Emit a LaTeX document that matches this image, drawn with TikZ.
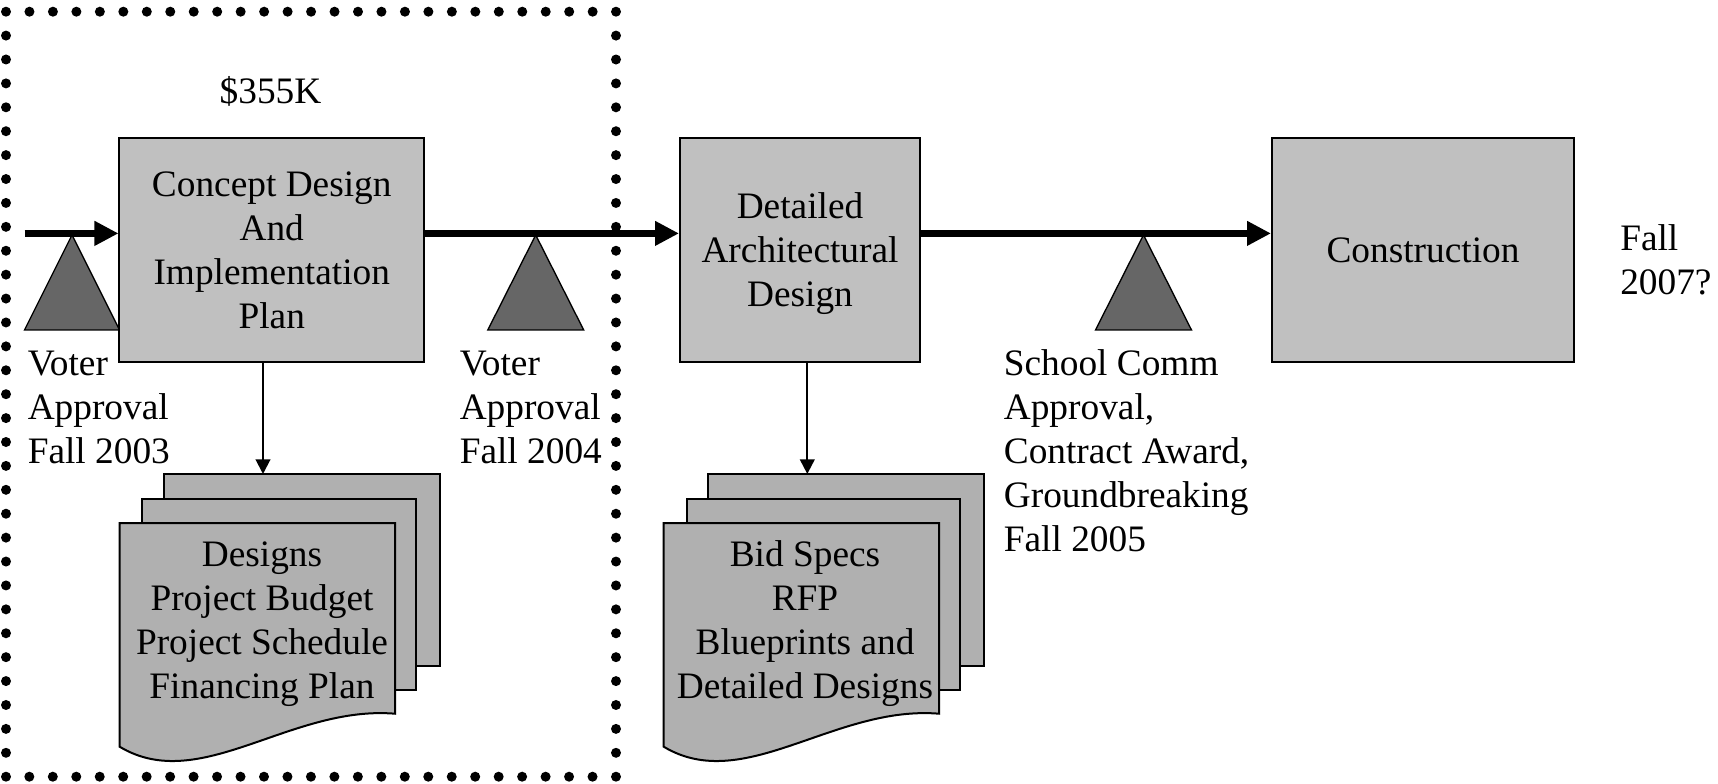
\documentclass[tikz,border=0pt]{standalone}
\usepackage{fontspec}
\setmainfont{Liberation Serif}
\usetikzlibrary{arrows.meta}
\definecolor{boxgray}{HTML}{C0C0C0}
\definecolor{docgray}{HTML}{B0B0B0}
\definecolor{gatedark}{HTML}{666666}
\newcommand{\topstrut}{\rule{0pt}{28.6pt}}
\begin{document}
\begin{tikzpicture}[x=0.75pt,y=-0.75pt,
  font=\fontsize{28}{33}\selectfont,
  stagebox/.style={draw=black, line width=1.5pt, fill=boxgray, align=center, inner sep=0pt},
  mainline/.style={line width=5.25pt, -{Triangle[length=18pt,width=17.5pt]}},
  subline/.style={line width=1.5pt, -{Triangle[length=11pt,width=11pt]}},
  gate/.style={draw=black, line width=1pt, fill=gatedark},
  sheet/.style={draw=black, line width=1.5pt, fill=docgray},
  lbl/.style={inner sep=0pt, align=left, anchor=north west},
  doctext/.style={inner sep=0pt, align=center, anchor=north},
  dotline/.style={line width=7.5pt, line cap=round}
]
\useasboundingbox (0,0) rectangle (1718,784);

% milestone triangles
\draw[gate] (72,235) -- (119.6,330) -- (24.5,330) -- cycle;
\draw[gate] (535.7,235) -- (583.7,330) -- (487.8,330) -- cycle;
\draw[gate] (1143.5,235) -- (1191.5,330) -- (1095.5,330) -- cycle;

% stage boxes
\node[stagebox, minimum width=228.4pt, minimum height=168pt] (concept) at (271.75,250)
  {\topstrut Concept Design\\And\\Implementation\\Plan\strut};
\node[stagebox, minimum width=180pt, minimum height=168pt] (detailed) at (800,250)
  {\topstrut Detailed\\Architectural\\Design\strut};
\node[stagebox, minimum width=226.5pt, minimum height=168pt] (construction) at (1423,250)
  {\topstrut Construction\strut};

% main timeline
\coordinate (start) at (24.5,233.4);
\draw[mainline] (start) -- (start -| concept.west);
\draw[mainline] (concept.east |- start) -- (start -| detailed.west);
\draw[mainline] (detailed.east |- start) -- (start -| construction.west);

% document stacks
\foreach \dx in {0,544.1}{
  \begin{scope}[shift={(\dx,0)}]
    \draw[sheet] (164,474) rectangle (439.6,665.7);
    \draw[sheet] (142.4,498.7) rectangle (416.3,690.3);
    \draw[sheet] (119.6,523) -- (395,523) -- (395,713.7)
      .. controls (290,705) and (200,795) .. (119.6,746.7) -- cycle;
  \end{scope}
}
\coordinate (in1) at (263,474);
\coordinate (in2) at (807.3,474);
\draw[subline] (in1 |- concept.south) -- (in1);
\draw[subline] (in2 |- detailed.south) -- (in2);

\node[doctext] (doc1text) at (262,535.2)
  {\strut Designs\\Project Budget\\Project Schedule\\Financing Plan};
\node[doctext] (doc2text) at (805,535.2)
  {\strut Bid Specs\\RFP\\Blueprints and\\Detailed Designs};

% labels
\node[inner sep=0pt, anchor=base] (cost) at (270.5,103.5) {\$355K};
\node[lbl] (v2003) at (27.5,344.2) {\strut Voter\\Approval\\Fall 2003};
\node[lbl] (v2004) at (459.5,344.2) {\strut Voter\\Approval\\Fall 2004};
\node[lbl] (school) at (1003.6,344.2)
  {\strut School Comm\\Approval,\\Contract Award,\\Groundbreaking\\Fall 2005};
\node[lbl] (fall07) at (1620,219.2) {\strut Fall\\2007?};

% dotted boundary
\draw[dotline, dash pattern=on 0pt off 17.6pt] (6,11.7) -- (616,11.7);
\draw[dotline, dash pattern=on 0pt off 17.93pt] (616,11.7) -- (616,776.7);
\draw[dotline, dash pattern=on 0pt off 17.6pt] (616,776.7) -- (6,776.7);
\draw[dotline, dash pattern=on 0pt off 17.93pt] (6,776.7) -- (6,11.7);
\end{tikzpicture}
\end{document}
